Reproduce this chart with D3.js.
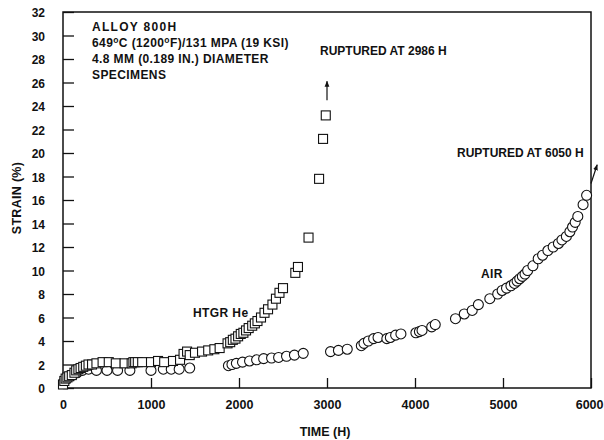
<!DOCTYPE html>
<html>
<head>
<meta charset="utf-8">
<script src="https://cdn.jsdelivr.net/npm/d3@7"></script>
<style>
  body { margin: 0; background: #fff; }
  svg text { fill: #111; font-weight: bold; }
  .tick text { font-family: "Liberation Sans Narrow", "Liberation Sans", Arial, sans-serif; }
  .note { font-family: "Liberation Sans", Arial, sans-serif; font-size: 12px; letter-spacing: 0.4px; }
</style>
</head>
<body>
<div id="viz"></div>
<script>
/* creep curves, alloy 800H, HTGR helium vs air */

var timeHe = [0, 15, 30, 50, 70, 100, 130, 150, 175, 200, 230, 260, 290, 330, 380, 450, 520, 600, 700, 780,
              800, 820, 850, 900, 1000, 1080, 1150, 1250, 1330, 1370, 1410, 1440, 1500, 1580, 1650, 1720, 1780,
              1870, 1900, 1930, 1960, 1990, 2020, 2050, 2080, 2110, 2150, 2180, 2210, 2250, 2290, 2330, 2380,
              2420, 2460, 2500, 2640, 2670, 2790, 2910, 2955, 2986];
var strainHe = [0.3, 0.6, 0.8, 0.9, 1.0, 1.1, 1.3, 1.5, 1.6, 1.7, 1.8, 1.9, 2.0, 2.0, 2.1, 2.2, 2.2, 2.1, 2.1, 2.1,
                2.2, 2.2, 2.2, 2.2, 2.2, 2.3, 2.2, 2.3, 2.4, 2.9, 3.1, 2.8, 3.0, 3.1, 3.2, 3.3, 3.4,
                3.8, 3.9, 4.1, 4.2, 4.4, 4.6, 4.7, 4.9, 5.1, 5.3, 5.5, 5.7, 6.0, 6.4, 6.7, 7.1,
                7.6, 8.1, 8.5, 9.8, 10.3, 12.8, 17.8, 21.2, 23.2];

var timeAir = [20, 60, 110, 160, 220, 290, 380, 500, 620, 760, 1000, 1140, 1230, 1320, 1440,
               1880, 1920, 1970, 2040, 2120, 2200, 2280, 2370, 2450, 2540, 2630, 2730,
               3040, 3130, 3230, 3390, 3420, 3470, 3530, 3580, 3680, 3720, 3780, 3840, 4010, 4050, 4080,
               4190, 4230, 4460, 4560, 4650, 4720, 4850, 4940, 4990, 5040, 5090, 5130, 5160, 5190, 5220,
               5250, 5280, 5340, 5400, 5450, 5510, 5570, 5630, 5670, 5720, 5760, 5790, 5820, 5850, 5910, 5950];
var strainAir = [0.6, 0.9, 1.1, 1.3, 1.5, 1.6, 1.5, 1.5, 1.5, 1.5, 1.5, 1.6, 1.6, 1.6, 1.7,
                 1.9, 2.0, 2.1, 2.2, 2.3, 2.4, 2.5, 2.55, 2.6, 2.7, 2.8, 2.95,
                 3.1, 3.2, 3.3, 3.6, 3.8, 4.0, 4.2, 4.3, 4.2, 4.3, 4.5, 4.6, 4.7, 4.8, 4.9,
                 5.2, 5.4, 5.9, 6.3, 6.6, 7.1, 7.6, 8.0, 8.3, 8.5, 8.7, 8.9, 9.1, 9.3, 9.5,
                 9.7, 10.0, 10.4, 11.0, 11.3, 11.7, 12.0, 12.3, 12.6, 12.9, 13.3, 13.7, 14.1, 14.6, 15.6, 16.4];

var xTicks = [0, 1000, 2000, 3000, 4000, 5000, 6000],
    yTicks = d3.range(0, 33, 2);

// rupture arrows: [time, strain] start and end
var arrowHe = [[3000, 24.5], [3000, 26.1]],
    arrowAir = [[6000, 17.4], [6070, 19.0]];

var width = 604,
    height = 440,
    margin = { top: 12, right: 13, bottom: 52, left: 63 };

var xScale = d3.scaleLinear()
    .domain([0, 6000])
    .range([margin.left, width - margin.right]);

var yScale = d3.scaleLinear()
    .domain([0, 32])
    .range([height - margin.bottom, margin.top]);

var svg = d3.select('#viz').append('svg')
    .attr('width', width)
    .attr('height', height);

var defs = svg.append('defs');
defs.append('marker')
    .attr('id', 'head')
    .attr('viewBox', '0 0 10 10')
    .attr('refX', 9).attr('refY', 5)
    .attr('markerWidth', 5).attr('markerHeight', 5)
    .attr('orient', 'auto')
  .append('path')
    .attr('d', 'M0,1 L10,5 L0,9 Z')
    .attr('fill', '#111');

// axes with inward ticks
var xAxis = d3.axisBottom(xScale)
    .tickValues(xTicks)
    .tickSizeInner(-10)
    .tickSizeOuter(0)
    .tickPadding(12)
    .tickFormat(d3.format('d'));

var yAxis = d3.axisLeft(yScale)
    .tickValues(yTicks)
    .tickSizeInner(-11)
    .tickSizeOuter(0)
    .tickPadding(18);

var xGuide = svg.append('g')
    .attr('transform', 'translate(0,' + yScale(0) + ')')
    .call(xAxis);
xGuide.selectAll('.tick text').style('font-size', '12.5px');
// last label sits flush with the right edge
xGuide.selectAll('.tick text')
    .filter(function(d) { return d === 6000; })
    .attr('text-anchor', 'end')
    .attr('x', 12);

var yGuide = svg.append('g')
    .attr('transform', 'translate(' + xScale(0) + ',0)')
    .call(yAxis);
yGuide.selectAll('.tick text').style('font-size', '12px').attr('dy', '0.4em');

svg.selectAll('.domain').remove();
svg.selectAll('.tick line').attr('stroke', '#111').attr('stroke-width', 1.3);

// frame
svg.append('rect')
    .attr('x', xScale(0))
    .attr('y', yScale(32))
    .attr('width', xScale(6000) - xScale(0))
    .attr('height', yScale(0) - yScale(32))
    .attr('fill', 'none')
    .attr('stroke', '#111')
    .attr('stroke-width', 1.5);

// air: circles
svg.append('g').selectAll('circle')
    .data(timeAir)
    .enter().append('circle')
      .attr('cx', function(d) { return xScale(d); })
      .attr('cy', function(d, i) { return yScale(strainAir[i]); })
      .attr('r', 5)
      .attr('fill', '#fff')
      .attr('stroke', '#111')
      .attr('stroke-width', 1.1);

// htgr helium: squares
svg.append('g').selectAll('rect')
    .data(timeHe)
    .enter().append('rect')
      .attr('x', function(d) { return xScale(d) - 4.5; })
      .attr('y', function(d, i) { return yScale(strainHe[i]) - 4.5; })
      .attr('width', 9)
      .attr('height', 9)
      .attr('fill', '#fff')
      .attr('stroke', '#111')
      .attr('stroke-width', 1.1);

[arrowHe, arrowAir].forEach(function(a) {
  svg.append('line')
      .attr('x1', xScale(a[0][0])).attr('y1', yScale(a[0][1]))
      .attr('x2', xScale(a[1][0])).attr('y2', yScale(a[1][1]))
      .attr('stroke', '#111')
      .attr('stroke-width', 1.2)
      .attr('marker-end', 'url(#head)');
});

// axis titles
svg.append('text')
    .attr('x', 325).attr('y', 436)
    .attr('text-anchor', 'middle')
    .style('font-family', '"Liberation Sans Narrow", "Liberation Sans", Arial, sans-serif')
    .style('font-size', '12.5px')
    .text('TIME (H)');

svg.append('text')
    .attr('transform', 'translate(21,198) rotate(-90)')
    .attr('text-anchor', 'middle')
    .style('font-family', '"Liberation Sans Narrow", "Liberation Sans", Arial, sans-serif')
    .style('font-size', '12.5px')
    .style('letter-spacing', '0.3px')
    .text('STRAIN (%)');

// notes
var info = svg.append('text').attr('class', 'note');
info.append('tspan').attr('x', 92).attr('y', 31).style('letter-spacing', '1.3px').text('ALLOY 800H');
var l2 = info.append('tspan').attr('x', 92).attr('y', 47);
l2.append('tspan').text('649');
l2.append('tspan').attr('dy', -4).style('font-size', '8.5px').text('o');
l2.append('tspan').attr('dy', 4).text('C (1200');
l2.append('tspan').attr('dy', -4).style('font-size', '8.5px').text('o');
l2.append('tspan').attr('dy', 4).text('F)/131 MPA (19 KSI)');
info.append('tspan').attr('x', 92).attr('y', 63).text('4.8 MM (0.189 IN.) DIAMETER');
info.append('tspan').attr('x', 92).attr('y', 79).text('SPECIMENS');

svg.append('text').attr('class', 'note').attr('x', 320).attr('y', 55)
    .style('letter-spacing', '0px').text('RUPTURED AT 2986 H');
svg.append('text').attr('class', 'note').attr('x', 457).attr('y', 157)
    .style('letter-spacing', '0px').text('RUPTURED AT 6050 H');
svg.append('text').attr('class', 'note').attr('x', 193).attr('y', 317).text('HTGR He');
svg.append('text').attr('class', 'note').attr('x', 481).attr('y', 278).text('AIR');
</script>
</body>
</html>
